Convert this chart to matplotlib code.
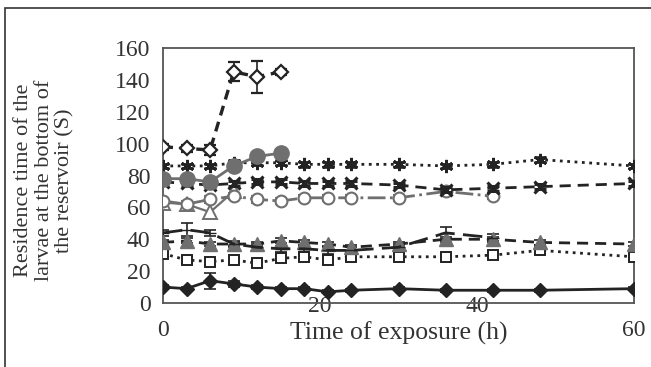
import matplotlib
matplotlib.use("Agg")
import matplotlib.pyplot as plt
from matplotlib.patches import Rectangle

plt.rcParams['font.family'] = ['Liberation Serif', 'DejaVu Serif']

# ---- data ----
t_all = [0, 3, 6, 9, 12, 15, 18, 21, 24, 30, 36, 42, 48, 60]
t_early = [0, 3, 6, 9, 12, 15]
t_tri = [0, 3, 6, 9]
t_circ = [0, 3, 6, 9, 12, 15, 18, 21, 24, 30, 36, 42]
t_dash = [0, 3, 6, 9, 12, 15, 18, 21, 24, 30, 36, 42]

open_diamond = [98, 97, 96, 145, 142, 145]
open_diamond_err = [2, 2, 3, 6, 10, 2]
asterisk = [86, 86, 86, 88, 88, 88, 87, 87, 87, 87, 86, 87, 90, 86]
gray_circle = [78, 78, 76, 86, 92, 94]
cross = [76, 75, 74, 75, 76, 76, 75, 75, 75, 74, 71, 72, 73, 75]
open_circle = [64, 62, 65, 67, 65, 64, 66, 66, 66, 66, 70, 67]
open_triangle = [63, 62, 57, 70]
long_dash = [44, 46, 44, 37, 35, 34, 34, 33, 33, 35, 44, 41]
long_dash_err = [2, 4, 2, 2, 2, 2, 2, 2, 2, 2, 4, 2]
gray_triangle = [38, 39, 37, 37, 37, 39, 38, 37, 35, 37, 40, 40, 38, 37]
open_square = [31, 27, 26, 27, 25, 28, 29, 27, 29, 29, 29, 30, 33, 29]
open_square_err = [2, 2, 2, 2, 2, 2, 2, 2, 2, 2, 2, 2, 2, 2]
filled_diamond = [10, 9, 14, 12, 10, 9, 9, 7, 8, 9, 8, 8, 8, 9]
filled_diamond_err = [1, 1, 5, 2, 1, 1, 1, 1, 1, 1, 1, 1, 1, 1]

x_ticks_outer = [0, 60]
x_ticks_inner = [20, 40]
y_ticks = [0, 20, 40, 60, 80, 100, 120, 140, 160]

BLACK = '#232323'
GRAY = '#6f6f6f'

fig = plt.figure(figsize=(6.51, 3.67), dpi=100)
ax = fig.add_axes([163/651, 1-303/367, (634-163)/651, (303-48)/367])

eb = dict(capsize=4, elinewidth=1.2, capthick=1.2)

# filled diamond, solid
ax.errorbar(t_all, filled_diamond, yerr=filled_diamond_err, color=BLACK, lw=2,
            marker='D', ms=7.5, mfc=BLACK, mec=BLACK, ls='-', zorder=3, **eb)
# open square, dotted
ax.errorbar(t_all, open_square, yerr=open_square_err, color=BLACK, lw=2,
            marker='s', ms=7.5, mfc='white', mec=BLACK, mew=1.4, ls=':', zorder=3, **eb)
# gray filled triangle, dashed
ax.errorbar(t_all, gray_triangle, yerr=[1.5]*len(t_all), color=BLACK, lw=2,
            marker='^', ms=9.5, mfc=GRAY, mec=GRAY, ls=(0, (4, 2.5)), zorder=4, **eb)
# long dash, small marker
ax.errorbar(t_dash, long_dash, yerr=long_dash_err, color=BLACK, lw=2,
            marker='_', ms=8, mec=BLACK, ls=(0, (7, 3)), zorder=4, **eb)
# open gray triangle, gray solid
ax.plot(t_tri, open_triangle, color=GRAY, lw=1.6, marker='^', ms=9.5,
        mfc='white', mec=GRAY, mew=1.4, ls='-', zorder=3)
# open gray circle, gray dash-dot
ax.errorbar(t_circ, open_circle, yerr=[2]*len(t_circ), color=GRAY, lw=2,
            marker='o', ms=8.5, mfc='white', mec=GRAY, mew=1.5, ls='-.', zorder=3, **eb)
# cross, dashed
ax.errorbar(t_all, cross, yerr=[1.5]*len(t_all), color=BLACK, lw=2,
            marker='x', ms=8.5, mew=2.2, mec=BLACK, ls=(0, (4, 2.5)), zorder=4, **eb)
# asterisk, dotted
ax.errorbar(t_all, asterisk, yerr=[1.5]*len(t_all), color=BLACK, lw=2,
            marker=(6, 2, 0), ms=9.5, mew=1.9, mec=BLACK, ls=':', zorder=3, **eb)
# gray filled circle, gray solid
ax.errorbar(t_early, gray_circle, yerr=[2]*len(t_early), color=GRAY, lw=2,
            marker='o', ms=11, mfc=GRAY, mec=GRAY, ls='-', zorder=5, **eb)
# open diamond, dashed
ax.errorbar(t_early, open_diamond, yerr=open_diamond_err, color=BLACK, lw=2.4,
            marker='D', ms=7.5, mfc='white', mec=BLACK, mew=1.6, ls=(0, (3, 2)), zorder=6, **eb)

ax.set_xlim(0, 60)
ax.set_ylim(0, 160)
ax.set_xticks(x_ticks_outer)
ax.set_xticklabels([str(v) for v in x_ticks_outer])
ax.set_xticks(x_ticks_inner, minor=True)
ax.set_xticklabels([str(v) for v in x_ticks_inner], minor=True)
ax.set_yticks(y_ticks)
ax.set_yticklabels([str(v) for v in y_ticks])
ax.tick_params(which='both', length=0, labelsize=17, colors='#333333')
ax.tick_params(axis='y', pad=9)
ax.tick_params(axis='x', which='major', pad=12)
ax.tick_params(axis='x', which='minor', pad=-5)

for s in ax.spines.values():
    s.set_color('#555555')
    s.set_linewidth(1.3)

ax.set_xlabel('Time of exposure (h)', fontsize=18.5, color='#333333')
ax.xaxis.set_label_coords(0.5, -0.118)
ax.xaxis.label.set_va('center')
ax.set_ylabel('Residence time of the\nlarvae at the bottom of\nthe reservoir (S)',
              fontsize=16, color='#333333', linespacing=1.1)
ax.yaxis.set_label_coords(-0.252, 0.48)
ax.yaxis.label.set_va('center')

fig.patches.append(Rectangle((5/651, -0.2), 2, 1 - 8/367 + 0.2, transform=fig.transFigure,
                             fill=False, ec='#333333', lw=1.2))

fig.savefig('out.png', dpi=100)
